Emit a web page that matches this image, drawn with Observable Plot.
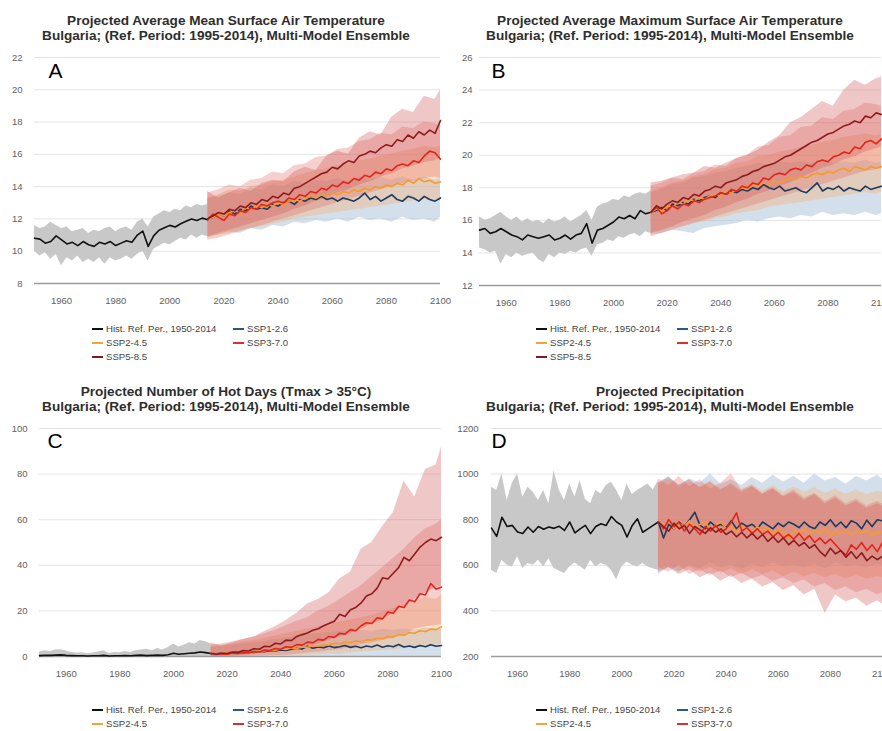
<!DOCTYPE html>
<html>
<head>
<meta charset="utf-8">
<script src="https://cdn.jsdelivr.net/npm/d3@7"></script>
<script src="https://cdn.jsdelivr.net/npm/@observablehq/plot@0.6"></script>
<style>
  html, body { margin: 0; padding: 0; background: #fff; }
  #root { position: relative; width: 882px; height: 731px; overflow: hidden; background: #fff;
          font-family: "Liberation Sans", Arial, sans-serif; }
  .title { position: absolute; width: 450px; text-align: center; font-weight: bold; font-size: 13.6px;
           line-height: 15px; color: #2e2e2e; white-space: nowrap; }
  .panel { position: absolute; width: 450px; }
  .panel svg { overflow: visible; }
  .leg { position: absolute; font-size: 9.6px; line-height: 14px; color: #444; white-space: nowrap;
         display: flex; align-items: center; height: 14px; }
  .leg .sw { display: inline-block; width: 11px; height: 2px; margin-right: 3px; }
</style>
</head>
<body>
<div id="root"></div>
<script>
// ---------- shared categories ----------
const histYears = [1950,1952,1954,1956,1958,1960,1962,1964,1966,1968,1970,1972,1974,1976,1978,1980,1982,1984,1986,1988,1990,1992,1994,1996,1998,2000,2002,2004,2006,2008,2010,2012,2014];
const scenYears = [2014,2016,2018,2020,2022,2024,2026,2028,2030,2032,2034,2036,2038,2040,2042,2044,2046,2048,2050,2052,2054,2056,2058,2060,2062,2064,2066,2068,2070,2072,2074,2076,2078,2080,2082,2084,2086,2088,2090,2092,2094,2096,2098,2100];
const bandYears = [2014,2018,2022,2026,2030,2034,2038,2042,2046,2050,2054,2058,2062,2066,2070,2074,2078,2082,2086,2090,2094,2098,2100];
const xTicks = [1960,1980,2000,2020,2040,2060,2080,2100];
const seriesNames = ["Hist. Ref. Per., 1950-2014","SSP1-2.6","SSP2-4.5","SSP3-7.0","SSP5-8.5"];

const titlesLine1 = ["Projected Average Mean Surface Air Temperature","Projected Average Maximum Surface Air Temperature","Projected Number of Hot Days (Tmax > 35°C)","Projected Precipitation"];
const titleLine2 = "Bulgaria; (Ref. Period: 1995-2014), Multi-Model Ensemble";
const panelLetters = ["A","B","C","D"];

const yTicksA = [8,10,12,14,16,18,20,22];
const yTicksB = [12,14,16,18,20,22,24,26];
const yTicksC = [0,20,40,60,80,100];
const yTicksD = [200,400,600,800,1000,1200];

// ---------- Panel A: mean temperature ----------
const aHist   = [10.8,10.75,10.5,10.6,10.95,10.7,10.45,10.55,10.35,10.6,10.4,10.3,10.55,10.45,10.6,10.35,10.5,10.65,10.55,11.0,11.25,10.3,10.95,11.3,11.45,11.6,11.5,11.7,11.85,12.0,11.9,12.05,11.95];
const aHistLo = [10.0,9.7,9.9,9.5,9.8,9.1,9.6,9.4,9.7,9.3,9.5,9.3,9.6,9.2,9.6,9.4,9.5,9.7,9.5,9.8,10.0,9.4,10.1,10.3,10.5,10.4,10.6,10.8,10.7,11.0,10.8,11.0,10.9];
const aHistHi = [11.6,11.4,11.5,11.8,11.6,11.4,11.5,11.2,11.3,11.4,11.1,11.3,11.2,11.4,11.5,11.2,11.4,11.5,11.3,11.8,12.0,11.5,12.1,12.3,12.5,12.4,12.6,12.5,12.8,12.7,12.9,12.8,12.9];
const aSsp126 = [12.0,12.1,12.3,12.2,12.5,12.3,12.6,12.5,12.8,12.6,12.7,12.6,12.9,12.8,13.0,13.1,12.9,13.2,13.1,13.3,13.2,13.4,13.2,13.3,13.1,13.3,13.2,13.1,13.3,13.6,13.2,13.4,13.1,13.3,13.5,13.2,13.1,13.4,13.3,13.1,13.4,13.2,13.1,13.3];
const aSsp245 = [12.0,12.1,12.3,12.2,12.4,12.5,12.4,12.7,12.6,12.8,12.7,12.9,12.8,13.0,12.9,13.1,13.2,13.1,13.3,13.4,13.3,13.5,13.4,13.6,13.5,13.7,13.6,13.8,13.7,13.9,13.8,14.0,13.9,14.1,14.0,14.2,14.1,14.4,14.2,14.5,14.3,14.4,14.2,14.3];
const aSsp370 = [12.0,12.3,12.1,11.9,12.3,12.2,12.5,12.4,12.7,12.6,12.9,12.8,13.0,13.1,13.0,13.3,13.2,13.5,13.4,13.7,13.6,13.9,13.8,14.1,14.0,14.3,14.2,14.5,14.4,14.7,14.6,14.9,14.8,15.1,15.0,15.3,15.4,15.3,15.6,15.5,15.9,16.2,16.1,15.7];
const aSsp585 = [12.0,12.2,12.4,12.3,12.6,12.5,12.8,12.7,13.0,12.9,13.2,13.1,13.4,13.3,13.6,13.5,13.9,14.0,14.2,14.4,14.6,14.8,14.9,15.2,15.1,15.4,15.6,15.5,15.9,16.0,16.2,16.1,16.4,16.6,16.5,16.9,16.8,17.2,17.0,17.4,17.2,17.5,17.3,18.1];
const aB126Lo = [10.9,11.0,11.2,11.1,11.4,11.3,11.6,11.5,11.8,11.7,11.9,11.8,12.0,11.8,12.1,11.9,12.0,11.8,12.1,11.9,12.0,11.8,12.1];
const aB126Hi = [13.2,13.4,13.6,13.5,13.9,13.8,14.1,14.0,14.3,14.2,14.4,14.3,14.5,14.3,14.6,14.4,14.6,14.4,14.6,14.4,14.6,14.4,14.5];
const aB245Lo = [10.8,11.0,11.1,11.3,11.4,11.5,11.7,11.8,12.0,12.1,12.2,12.3,12.4,12.5,12.6,12.7,12.8,12.9,13.0,13.1,13.2,13.1,13.2];
const aB245Hi = [13.3,13.5,13.8,13.7,14.0,14.1,14.3,14.4,14.6,14.8,15.0,15.1,15.3,15.4,15.6,15.7,15.9,16.0,16.2,16.3,16.5,16.4,16.5];
const aB370Lo = [10.7,10.8,11.0,11.2,11.4,11.6,11.8,12.0,12.2,12.4,12.6,12.8,13.0,13.2,13.4,13.6,13.8,14.0,14.2,14.3,14.5,14.6,14.5];
const aB370Hi = [13.6,13.8,14.1,14.0,14.4,14.5,14.9,14.8,15.3,15.4,15.8,15.9,16.3,16.4,16.8,16.9,17.3,17.2,17.7,17.6,18.0,17.9,17.8];
const aB585Lo = [10.9,11.1,11.3,11.5,11.7,11.9,12.1,12.3,12.6,12.8,13.1,13.3,13.6,13.8,14.1,14.3,14.6,14.8,15.1,15.3,15.5,15.6,15.8];
const aB585Hi = [13.7,13.3,13.6,13.9,13.7,14.2,14.4,14.3,14.9,15.2,15.0,15.9,16.2,16.0,17.0,17.4,17.2,18.3,18.8,18.6,19.6,19.4,20.0];

// ---------- Panel B: maximum temperature ----------
const bHist   = [15.4,15.5,15.2,15.3,15.5,15.3,15.1,15.0,14.8,15.1,15.0,14.9,15.0,15.1,14.8,14.9,15.1,14.85,15.1,15.2,15.8,14.6,15.4,15.5,15.7,15.9,16.2,16.1,16.3,16.1,16.6,16.4,16.5];
const bHistLo = [14.3,14.2,14.0,14.1,13.3,13.9,13.7,14.0,13.8,13.9,14.0,13.6,13.4,13.9,13.7,14.0,13.9,14.1,14.0,14.2,14.3,13.8,14.5,14.6,14.8,14.7,15.0,14.9,15.1,15.2,15.0,15.3,15.2];
const bHistHi = [16.2,16.0,16.1,16.3,16.5,16.2,16.0,16.2,15.9,16.1,15.9,16.0,15.8,16.1,15.9,16.0,16.2,15.9,16.1,16.3,16.6,16.0,16.8,17.0,17.1,17.3,17.2,17.5,17.4,17.6,17.7,17.6,17.8];
const bSsp126 = [16.5,16.6,16.8,16.6,17.0,16.9,17.1,17.0,17.3,17.2,17.4,17.5,17.4,17.7,17.6,17.8,17.7,17.9,17.8,18.0,17.9,18.2,18.0,17.9,18.1,17.8,17.9,18.0,17.8,17.7,18.0,18.3,17.8,18.0,17.9,18.1,17.8,18.0,17.9,17.8,18.1,17.9,18.0,18.1];
const bSsp245 = [16.5,16.7,16.6,16.9,16.8,17.1,17.0,17.3,17.2,17.4,17.3,17.5,17.6,17.5,17.8,17.7,17.9,18.0,17.9,18.2,18.1,18.3,18.2,18.4,18.3,18.5,18.6,18.5,18.7,18.6,18.8,18.9,18.8,19.0,18.9,19.1,19.2,19.0,19.3,19.2,19.1,19.3,19.2,19.3];
const bSsp370 = [16.5,16.8,16.4,16.6,16.9,16.7,17.0,16.9,17.2,17.1,17.3,17.4,17.5,17.7,17.6,17.9,17.8,18.1,18.0,18.3,18.2,18.6,18.5,18.8,18.9,18.8,19.1,19.2,19.1,19.4,19.3,19.6,19.7,19.6,19.9,20.0,20.2,20.1,20.5,20.4,20.8,20.9,20.7,21.0];
const bSsp585 = [16.5,16.9,16.7,17.0,17.2,17.1,17.4,17.3,17.6,17.5,17.8,17.9,18.1,18.0,18.3,18.4,18.5,18.7,18.8,19.0,19.1,19.3,19.4,19.5,19.7,19.9,20.0,20.2,20.4,20.6,20.8,20.9,21.1,21.3,21.4,21.6,21.8,21.9,22.1,22.0,22.4,22.3,22.6,22.5];
const bB126Lo = [15.1,15.2,15.4,15.3,15.2,15.5,15.6,15.7,15.8,16.0,15.9,16.1,16.2,16.1,16.3,16.2,16.5,16.3,16.4,16.3,16.5,16.3,16.4];
const bB126Hi = [17.7,17.9,18.2,18.3,18.6,18.7,18.9,19.0,19.2,19.3,19.5,19.4,19.6,19.5,19.6,19.5,19.7,19.5,19.6,19.5,19.7,19.5,19.6];
const bB245Lo = [15.2,15.3,15.5,15.6,15.8,15.9,16.1,16.2,16.4,16.5,16.6,16.8,16.9,17.0,17.1,17.2,17.3,17.4,17.5,17.6,17.7,17.6,17.7];
const bB245Hi = [17.8,18.0,18.3,18.4,18.7,18.8,19.1,19.2,19.5,19.6,19.9,20.0,20.2,20.3,20.5,20.6,20.8,20.9,21.1,21.2,21.3,21.2,21.3];
const bB370Lo = [15.0,15.2,15.4,15.6,15.8,16.0,16.2,16.4,16.6,16.8,17.0,17.2,17.4,17.6,17.8,18.0,18.2,18.4,18.6,18.8,19.0,19.1,19.2];
const bB370Hi = [18.1,18.3,18.6,18.5,18.9,19.0,19.4,19.3,19.8,20.0,20.5,20.6,21.1,21.2,21.7,21.8,22.3,22.2,22.7,22.8,23.2,23.1,23.0];
const bB585Lo = [15.2,15.4,15.6,15.9,16.1,16.3,16.6,16.8,17.1,17.3,17.6,17.8,18.1,18.3,18.6,18.9,19.2,19.4,19.7,19.9,20.2,20.4,20.5];
const bB585Hi = [18.3,18.4,18.6,18.8,18.9,19.3,19.2,19.5,19.8,20.0,20.3,20.8,21.2,22.0,22.3,22.8,23.3,23.0,24.0,24.6,24.3,24.7,24.8];

// ---------- Panel C: hot days ----------
const cHist   = [0.4,0.5,0.5,0.6,0.7,0.5,0.4,0.3,0.3,0.2,0.3,0.3,0.5,0.2,0.3,0.3,0.4,0.3,0.5,0.6,0.4,0.5,0.6,0.5,0.8,1.4,1.0,1.2,1.4,1.6,2.0,1.7,1.3];
const cHistLo = [0,0,0,0,0,0,0,0,0,0,0,0,0,0,0,0,0,0,0,0,0,0,0,0,0,0,0,0,0,0,0,0,0];
const cHistHi = [2.0,2.5,2.2,2.8,3.0,2.4,1.8,1.5,1.6,1.2,1.5,2.0,2.5,1.3,1.8,1.6,2.2,1.7,2.5,2.8,3.2,2.5,3.5,2.8,4.0,5.5,4.2,5.0,6.0,5.5,7.0,6.5,5.5];
const cSsp126 = [1.3,1.2,1.5,1.3,1.6,1.8,1.5,2.0,1.8,2.3,2.1,2.6,2.4,2.9,2.7,3.2,3.6,3.3,4.5,3.6,4.2,3.8,4.6,3.9,4.3,4.8,4.0,4.5,3.8,4.6,4.2,5.0,4.1,4.7,4.3,5.3,4.2,4.6,4.0,4.8,4.3,5.2,4.5,4.8];
const cSsp245 = [1.3,1.1,1.4,1.6,1.3,1.8,1.7,2.2,2.0,2.5,2.4,2.9,2.7,3.3,3.1,3.8,3.5,4.2,4.0,4.7,4.5,5.2,5.0,5.8,5.5,6.3,6.0,6.8,6.5,7.4,7.1,8.0,7.8,8.8,8.5,9.6,9.3,10.5,10.2,11.3,11.0,12.0,11.8,13.0];
const cSsp370 = [1.3,0.9,1.2,1.0,1.5,1.3,1.8,1.6,2.2,2.0,2.8,2.6,3.5,3.2,4.3,4.0,5.2,5.0,6.3,6.0,7.5,7.2,8.8,8.4,10.2,9.8,11.8,11.3,13.5,14.8,14.5,17.0,16.5,19.5,19.0,22.0,21.5,24.8,24.0,27.5,27.0,32.0,29.5,30.5];
const cSsp585 = [1.3,1.0,1.4,1.3,2.0,1.8,2.6,2.4,3.4,3.2,4.5,4.3,5.8,5.5,7.2,7.0,8.8,9.6,10.3,11.5,12.2,13.5,14.5,15.5,18.5,17.5,20.5,21.5,23.5,26.5,27.5,30.0,34.5,34.0,36.5,39.0,43.5,42.0,45.0,48.0,50.0,51.5,50.8,52.3];
const cB126Lo = [0,0,0,0,0,0,0,0,0,0,0,0,0,0,0,0,0,0,0,0,0,0,0];
const cB126Hi = [4.0,4.5,5.0,5.5,6.0,6.5,7.5,8.0,9.0,9.5,10.0,10.5,11.0,11.0,11.5,11.0,12.0,11.5,12.0,11.5,12.5,12.0,12.0];
const cB245Lo = [0,0,0,0,0,0.2,0.3,0.4,0.5,0.5,0.8,1.0,1.0,1.5,2.0,2.3,2.6,3.0,3.5,4.0,4.5,5.0,5.0];
const cB245Hi = [4.5,5.0,5.5,6.5,7.0,8.0,9.0,10.0,11.0,12.0,13.0,14.0,15.0,16.0,17.0,18.0,19.5,21.0,22.5,24.0,26.0,25.0,27.0];
const cB370Lo = [0,0,0,0,0.2,0.3,0.4,0.5,1.0,1.5,2.0,2.5,3.0,4.0,5.0,6.0,7.0,8.0,9.5,12.0,13.0,13.5,14.0];
const cB370Hi = [5.0,5.5,6.5,7.5,8.5,10.0,11.5,13.5,15.5,17.0,20.0,22.0,25.0,28.0,31.0,35.0,39.0,43.0,47.0,52.0,56.0,58.0,60.0];
const cB585Lo = [0,0,0.2,0.5,1.0,1.5,2.0,2.8,3.5,4.5,5.5,7.0,8.5,10.0,12.0,14.0,16.0,19.0,22.0,25.0,28.0,30.0,31.0];
const cB585Hi = [6.0,4.5,6.0,7.5,8.5,11.0,13.0,15.8,19.0,23.0,25.0,28.0,34.0,37.0,47.0,50.0,57.0,63.0,77.0,70.0,82.0,84.0,92.0];

// ---------- Panel D: precipitation ----------
const dHist   = [763,727,811,770,775,746,739,768,745,770,758,768,762,771,753,790,742,760,775,739,770,782,775,814,790,775,724,775,804,745,760,775,790];
const dHistLo = [578,564,622,600,593,637,586,608,600,622,593,629,586,575,564,593,610,595,578,622,593,608,600,578,535,593,615,600,593,608,593,585,578];
const dHistHi = [942,928,1000,884,960,1000,899,942,920,884,928,870,1015,930,884,957,900,971,890,870,928,913,950,964,928,884,957,910,928,942,957,930,971];
const dSsp126 = [790,720,780,760,790,770,800,833,775,760,790,770,780,765,795,760,785,770,780,760,790,775,760,785,770,790,780,765,790,770,760,790,775,800,770,790,765,795,785,760,798,770,800,795];
const dSsp245 = [790,770,800,760,785,770,795,760,780,790,755,775,790,760,770,750,775,760,745,770,750,765,740,760,745,720,755,740,760,735,755,740,760,730,750,740,755,735,750,740,755,730,745,740];
const dSsp370 = [790,760,800,770,790,750,780,760,735,770,750,775,745,760,790,830,750,765,740,760,735,750,725,745,720,735,715,740,710,730,700,720,695,715,690,665,645,690,670,700,665,690,660,700];
const dSsp585 = [790,770,750,785,760,775,740,770,755,740,765,745,760,735,750,725,745,720,740,715,735,705,725,700,720,690,710,685,700,675,690,660,640,675,650,665,635,660,630,655,620,640,625,640];
const dB126Lo = [560,590,570,600,585,610,590,600,580,605,590,610,595,600,590,605,585,610,595,600,590,605,600];
const dB126Hi = [960,990,950,980,960,1000,955,975,950,985,960,995,965,990,960,1000,970,985,955,990,970,995,980];
const dB245Lo = [580,600,575,595,570,590,565,585,560,580,560,575,550,570,550,565,545,560,540,555,540,550,545];
const dB245Hi = [950,975,940,965,945,970,935,960,930,955,925,950,920,945,920,940,915,935,910,930,910,925,920];
const dB370Lo = [590,570,600,560,580,555,575,545,565,540,555,530,545,520,535,505,520,490,505,480,495,470,480];
const dB370Hi = [980,950,990,945,975,935,960,1000,930,950,915,940,905,930,895,915,880,905,870,890,860,880,870];
const dB585Lo = [570,590,560,580,545,565,530,555,520,540,505,525,490,510,470,495,390,470,440,455,420,445,430];
const dB585Hi = [960,985,950,975,940,965,930,955,920,945,910,935,900,920,885,910,870,895,860,880,850,870,860];

// ---------- styling (kept separate from data) ----------
const lineColors = ["#111111", "#1d3a5c", "#f59b2b", "#e3241b", "#8e1b1e"];
const bandColors = ["#c8c8c8", "#a7c2da", "#f6b27c", "#e0625c", "#cf5a5c"];
const bandOpacity = [1, 0.5, 0.42, 0.3, 0.34];
const legendColors = ["#111111", "#2f5880", "#f2a441", "#dc2f2f", "#7e1c22"];

const panels = [
  {hist: aHist, lo: aHistLo, hi: aHistHi, lines: [aSsp126, aSsp245, aSsp370, aSsp585],
   bands: [[aB126Lo, aB126Hi], [aB245Lo, aB245Hi], [aB370Lo, aB370Hi], [aB585Lo, aB585Hi]],
   yDomain: [8, 22], yTicks: yTicksA,
   left: 0, top: 45, mL: 34, mR: 10, mT: 12, mB: 32, yPad: 12, ldx: 14, ldy: 6,
   titleLeft: 1, titleTop: 13.2, legLeft: 92, legTop: 322},
  {hist: bHist, lo: bHistLo, hi: bHistHi, lines: [bSsp126, bSsp245, bSsp370, bSsp585],
   bands: [[bB126Lo, bB126Hi], [bB245Lo, bB245Hi], [bB370Lo, bB370Hi], [bB585Lo, bB585Hi]],
   yDomain: [12, 26], yTicks: yTicksB,
   left: 450, top: 45, mL: 29, mR: 19, mT: 12, mB: 30, yPad: 7, ldx: 12, ldy: 6,
   titleLeft: 445, titleTop: 13.2, legLeft: 536, legTop: 322},
  {hist: cHist, lo: cHistLo, hi: cHistHi, lines: [cSsp126, cSsp245, cSsp370, cSsp585],
   bands: [[cB126Lo, cB126Hi], [cB245Lo, cB245Hi], [cB370Lo, cB370Hi], [cB585Lo, cB585Hi]],
   yDomain: [0, 100], yTicks: yTicksC,
   left: 0, top: 415, mL: 39, mR: 9, mT: 13, mB: 29, yPad: 12, ldx: 8, ldy: 5,
   titleLeft: 1, titleTop: 384.2, legLeft: 92, legTop: 703},
  {hist: dHist, lo: dHistLo, hi: dHistHi, lines: [dSsp126, dSsp245, dSsp370, dSsp585],
   bands: [[dB126Lo, dB126Hi], [dB245Lo, dB245Hi], [dB370Lo, dB370Hi], [dB585Lo, dB585Hi]],
   yDomain: [200, 1200], yTicks: yTicksD,
   left: 450, top: 415, mL: 41, mR: 18, mT: 13, mB: 29, yPad: 13, ldx: 0, ldy: 5,
   titleLeft: 445, titleTop: 384.2, legLeft: 536, legTop: 703}
];

const root = document.getElementById("root");
const pts = (years, vals) => years.map((year, i) => ({year, value: vals[i]}));
const rng = (years, lo, hi) => years.map((year, i) => ({year, lo: lo[i], hi: hi[i]}));

panels.forEach((p, k) => {
  // title
  const t = document.createElement("div");
  t.className = "title";
  t.style.left = p.titleLeft + "px";
  t.style.top = p.titleTop + "px";
  const l1 = document.createElement("div"); l1.textContent = titlesLine1[k];
  const l2 = document.createElement("div"); l2.textContent = titleLine2;
  t.append(l1, l2);
  root.append(t);

  const marks = [
    Plot.ruleY(p.yTicks, {stroke: "#e4e4e4", strokeWidth: 1}),
    Plot.areaY(rng(histYears, p.lo, p.hi), {x: "year", y1: "lo", y2: "hi", fill: bandColors[0], fillOpacity: bandOpacity[0]}),
    ...p.bands.map((b, i) => Plot.areaY(rng(bandYears, b[0], b[1]),
        {x: "year", y1: "lo", y2: "hi", fill: bandColors[i + 1], fillOpacity: bandOpacity[i + 1]})),
    Plot.ruleY([p.yDomain[0]], {stroke: "#9c9c9c", strokeWidth: 1.6}),
    Plot.line(pts(histYears, p.hist), {x: "year", y: "value", stroke: lineColors[0], strokeWidth: 1.6}),
    ...p.lines.map((l, i) => Plot.line(pts(scenYears, l),
        {x: "year", y: "value", stroke: lineColors[i + 1], strokeWidth: 1.6})),
    Plot.text([panelLetters[k]], {text: d => d, frameAnchor: "top-left", lineAnchor: "top", textAnchor: "start",
        dx: p.ldx, dy: p.ldy, fontSize: 21, fill: "#000"})
  ];

  const chart = Plot.plot({
    width: 450, height: 270,
    marginLeft: p.mL, marginRight: p.mR, marginTop: p.mT, marginBottom: p.mB,
    x: {domain: [1950, 2100], ticks: xTicks, tickFormat: "d", tickSize: 0, tickPadding: 14, label: null},
    y: {domain: p.yDomain, ticks: p.yTicks, tickFormat: "d", tickSize: 0, tickPadding: p.yPad, label: null},
    style: {fontSize: "9.5px", fontFamily: "'Liberation Sans', Arial, sans-serif", color: "#616161", background: "transparent", overflow: "visible"},
    marks
  });
  const holder = document.createElement("div");
  holder.className = "panel";
  holder.style.left = p.left + "px";
  holder.style.top = p.top + "px";
  holder.append(chart);
  root.append(holder);

  // legend (two columns, three rows)
  const cols = [0, 1, 0, 1, 0];
  const rows = [0, 0, 1, 1, 2];
  seriesNames.forEach((name, i) => {
    const it = document.createElement("div");
    it.className = "leg";
    it.style.left = (p.legLeft + cols[i] * 141) + "px";
    it.style.top = (p.legTop + rows[i] * 14) + "px";
    const sw = document.createElement("span");
    sw.className = "sw";
    sw.style.background = legendColors[i];
    const tx = document.createElement("span");
    tx.textContent = name;
    it.append(sw, tx);
    root.append(it);
  });
});
</script>
</body>
</html>
